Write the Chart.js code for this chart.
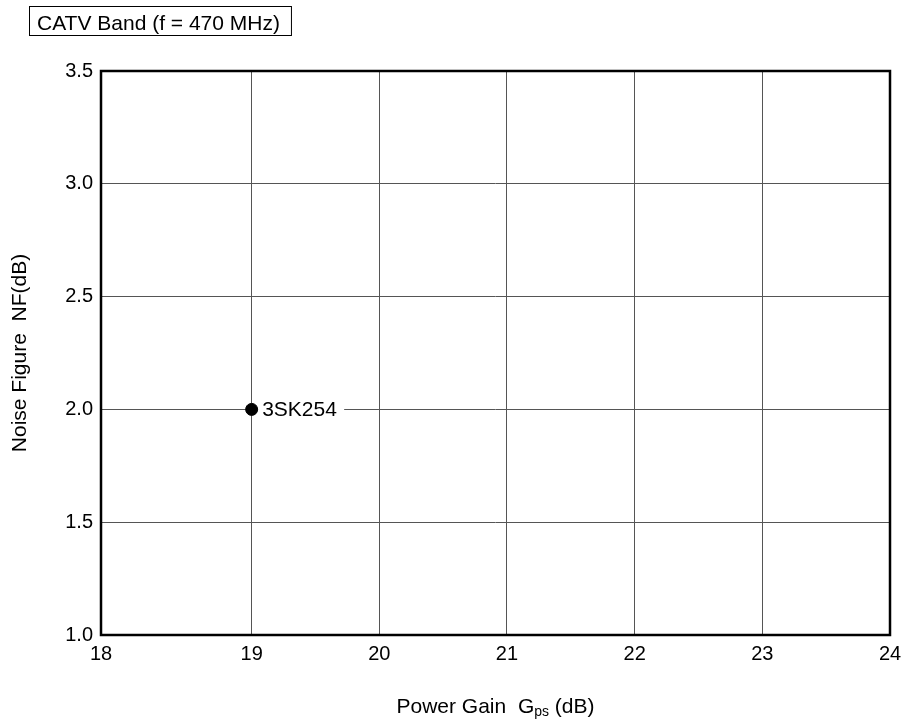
<!DOCTYPE html>
<html>
<head>
<meta charset="utf-8">
<script src="https://cdn.jsdelivr.net/npm/chart.js@4/dist/chart.umd.min.js"></script>
<style>
  html, body { margin: 0; padding: 0; background: #fff; }
  #wrap { width: 905px; height: 720px; }
</style>
</head>
<body>
<div id="wrap"><canvas id="c" width="905" height="720"></canvas></div>
<script>
// ---- data ----
const chartTitle = 'CATV Band (f = 470 MHz)';
const seriesNames = ['3SK254'];
const powerGain = [19];        // Gps (dB)
const noiseFigure = [2.0];     // NF (dB)
const xTickLabels = ['18', '19', '20', '21', '22', '23', '24'];
const xTickValues = [17.82, 19, 20, 21, 22, 23, 24]; // first tick sits at the axis start in the original
const yTickLabels = ['1.0', '1.5', '2.0', '2.5', '3.0', '3.5'];
const yTickValues = [1.0, 1.5, 2.0, 2.5, 3.0, 3.5];
const xAxisTitle = ['Power Gain  G', 'ps', ' (dB)'];
const yAxisTitle = 'Noise Figure  NF(dB)';

const FONT = "'Liberation Sans', Arial, Helvetica, sans-serif";

const overlay = {
  id: 'overlay',
  afterDatasetsDraw(chart) {
    const ctx = chart.ctx;
    const a = chart.chartArea;
    ctx.save();
    // frame
    ctx.strokeStyle = '#000';
    ctx.lineWidth = 2.5;
    ctx.strokeRect(a.left, a.top, a.right - a.left, a.bottom - a.top);

    // point label with white background
    const meta = chart.getDatasetMeta(0);
    meta.data.forEach((pt, i) => {
      ctx.fillStyle = '#fff';
      ctx.fillRect(pt.x + 6.5, pt.y - 12, 86, 24);
      ctx.fillStyle = '#000';
      ctx.font = '21px ' + FONT;
      ctx.textBaseline = 'middle';
      ctx.textAlign = 'left';
      ctx.fillText(seriesNames[i], pt.x + 10.5, pt.y + 1);
    });

    // title box
    ctx.font = '21px ' + FONT;
    ctx.textBaseline = 'alphabetic';
    ctx.textAlign = 'left';
    const tw = ctx.measureText(chartTitle).width;
    ctx.lineWidth = 1;
    ctx.strokeStyle = '#000';
    ctx.strokeRect(29.5, 6.5, tw + 19, 29);
    ctx.fillText(chartTitle, 37, 30);

    // x axis title with subscript
    const big = '21px ' + FONT, small = '14px ' + FONT;
    ctx.font = big;
    const w1 = ctx.measureText(xAxisTitle[0]).width;
    const w3 = ctx.measureText(xAxisTitle[2]).width;
    ctx.font = small;
    const w2 = ctx.measureText(xAxisTitle[1]).width;
    let x0 = (a.left + a.right) / 2 - (w1 + w2 + w3) / 2;
    ctx.font = big;
    ctx.fillText(xAxisTitle[0], x0, 713);
    ctx.font = small;
    ctx.fillText(xAxisTitle[1], x0 + w1, 716);
    ctx.font = big;
    ctx.fillText(xAxisTitle[2], x0 + w1 + w2, 713);

    // y axis title
    ctx.translate(26, (a.top + a.bottom) / 2);
    ctx.rotate(-Math.PI / 2);
    ctx.textAlign = 'center';
    ctx.textBaseline = 'alphabetic';
    ctx.font = big;
    ctx.fillText(yAxisTitle, 0, 0);
    ctx.restore();
  }
};

new Chart(document.getElementById('c'), {
  type: 'scatter',
  data: {
    datasets: [{
      label: seriesNames[0],
      data: powerGain.map((g, i) => ({ x: g, y: noiseFigure[i] })),
      pointRadius: 6,
      pointHoverRadius: 6,
      pointBackgroundColor: '#000',
      pointBorderColor: '#000',
      showLine: false
    }]
  },
  options: {
    responsive: false,
    animation: false,
    events: [],
    layout: { padding: { left: 0, right: 15, top: 71, bottom: 0 } },
    plugins: {
      legend: { display: false },
      tooltip: { enabled: false },
      title: { display: false }
    },
    scales: {
      x: {
        type: 'linear',
        min: xTickValues[0],
        max: xTickValues[xTickValues.length - 1],
        afterBuildTicks(scale) {
          scale.ticks = xTickValues.map(v => ({ value: v }));
        },
        afterFit(scale) { scale.height = 85; scale.paddingLeft = 0; scale.paddingRight = 0; },
        ticks: {
          autoSkip: false,
          maxRotation: 0,
          padding: 7,
          color: '#000',
          font: { family: FONT, size: 20 },
          callback: (v, i) => xTickLabels[i]
        },
        grid: { color: '#555', lineWidth: 1, drawTicks: false },
        border: { display: false }
      },
      y: {
        type: 'linear',
        min: yTickValues[0],
        max: yTickValues[yTickValues.length - 1],
        afterBuildTicks(scale) {
          scale.ticks = yTickValues.map(v => ({ value: v }));
        },
        afterFit(scale) { scale.width = 101; scale.paddingTop = 0; scale.paddingBottom = 0; },
        ticks: {
          autoSkip: false,
          padding: 8,
          color: '#000',
          font: { family: FONT, size: 20 },
          callback: (v, i) => yTickLabels[i]
        },
        grid: { color: '#555', lineWidth: 1, drawTicks: false },
        border: { display: false }
      }
    }
  },
  plugins: [overlay]
});
</script>
</body>
</html>
